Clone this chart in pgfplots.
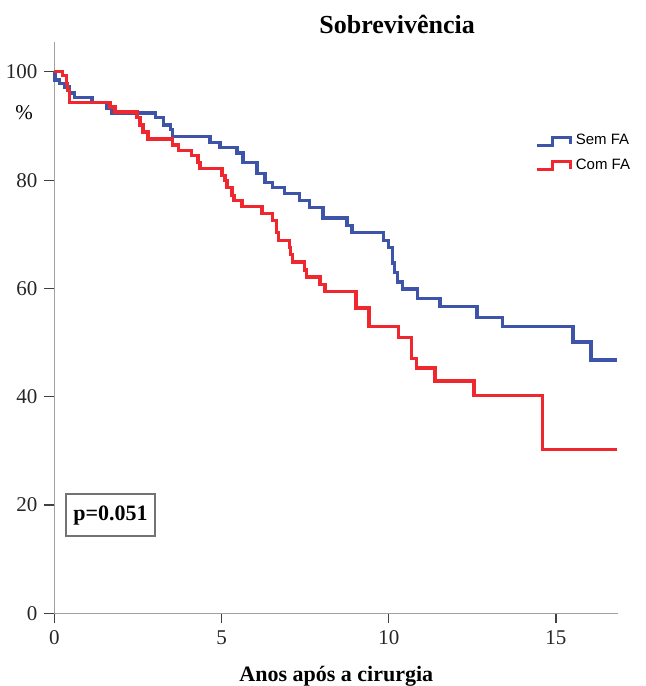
\documentclass[border=0pt]{standalone}
\usepackage{fontspec}
\setmainfont{Liberation Serif}
\newfontfamily\arial{Liberation Sans}
\usepackage{pgfplots}
\pgfplotsset{compat=1.18}

\definecolor{semfa}{RGB}{62,84,168}
\definecolor{comfa}{RGB}{238,40,46}
\definecolor{axgray}{RGB}{160,160,160}

\begin{document}
\begin{tikzpicture}
\begin{axis}[
    at={(0,0)}, anchor=south west,
    scale only axis,
    width=281.8pt, height=285.6pt,
    xmin=0, xmax=16.86,
    ymin=0, ymax=105.5,
    axis lines*=left,
    axis line style={axgray, line width=0.6pt},
    xtick={0,5,10,15},
    ytick={0,20,40,60,80,100},
    tick align=outside,
    major tick length=5pt,
    major tick style={black!75, line width=0.6pt},
    /pgf/number format/assume math mode=true,
    tick label style={font=\fontsize{10.5pt}{12pt}\selectfont, black!85},
    title={Sobrevivência},
    title style={at={(axis description cs:0.608,1.009)}, anchor=center,
        font=\fontsize{13pt}{15pt}\selectfont\bfseries},
    xlabel={Anos após a cirurgia},
    xlabel style={at={(axis description cs:0.5,-0.11)}, anchor=center,
        font=\fontsize{11pt}{13pt}\selectfont\bfseries},
    ylabel={\%},
    ylabel style={at={(axis description cs:-0.054,0.877)}, rotate=-90, anchor=center,
        font=\fontsize{10.5pt}{12pt}\selectfont},
    legend style={draw=none, fill=none, at={(axis description cs:0.853,0.846)}, anchor=north west,
        font=\arial\fontsize{7.5pt}{9pt}\selectfont, row sep=1.5pt,
        inner sep=0pt, cells={anchor=west}},
    legend image code/.code={
        \draw[#1] (0pt,-2pt) -- (7.5pt,-2pt) -- (7.5pt,2pt) -- (16.5pt,2pt) -- (16.5pt,-1.5pt);
    },
    clip=false,
]
% Sem FA
\addplot[const plot, semfa, line width=1.6pt] coordinates {
(0,100) (0.015,98.5) (0.16,97.9) (0.31,97.2) (0.46,96.1) (0.61,95.2)
(1.12,94.3) (1.57,93.3) (1.72,92.4) (3.01,91.5) (3.25,90.2) (3.46,89.3)
(3.54,88.0) (4.65,86.9) (4.95,86.0) (5.46,85.0) (5.64,83.2) (6.06,81.3)
(6.30,79.6) (6.51,78.7) (6.89,77.6) (7.34,76.3) (7.64,75.0) (8.03,73.0)
(8.75,71.6) (8.90,70.4) (9.83,68.9) (9.98,67.5) (10.10,64.7) (10.16,62.9)
(10.25,61.2) (10.40,59.9) (10.87,58.2) (11.53,56.6) (12.64,54.7) (13.39,52.9)
(15.51,50.1) (16.05,46.8) (16.83,46.8)
};
\addlegendentry{Sem FA}
% Com FA
\addplot[const plot, comfa, line width=1.6pt] coordinates {
(0,100) (0.25,99.3) (0.37,97.9) (0.40,96.6) (0.46,94.4) (1.66,93.5)
(1.81,92.6) (2.47,91.5) (2.56,90.2) (2.65,88.9) (2.80,87.6) (3.54,86.5)
(3.70,85.5) (4.11,84.6) (4.29,83.3) (4.35,82.1) (5.01,80.9) (5.10,80.0)
(5.16,78.7) (5.31,77.2) (5.37,76.3) (5.61,75.1) (6.21,73.9) (6.51,72.6)
(6.63,70.4) (6.69,68.9) (7.02,67.5) (7.07,66.2) (7.13,64.9) (7.49,63.4)
(7.55,62.1) (7.94,60.8) (8.09,59.5) (9.02,56.4) (9.41,52.9) (10.28,51.0)
(10.69,47.1) (10.84,45.3) (11.38,42.9) (12.55,40.2) (14.61,30.2) (16.83,30.2)
};
\addlegendentry{Com FA}
\node[draw=black!55, line width=0.7pt, minimum width=44.5pt, minimum height=21pt,
      inner sep=0pt, font=\fontsize{11pt}{13pt}\selectfont\bfseries]
      at (axis cs:1.675,18.15) {p=0.051};
\end{axis}
\pgfresetboundingbox
\path[use as bounding box] (-27.25pt,-36.35pt) rectangle (295.25pt,306.65pt);
\end{tikzpicture}
\end{document}
